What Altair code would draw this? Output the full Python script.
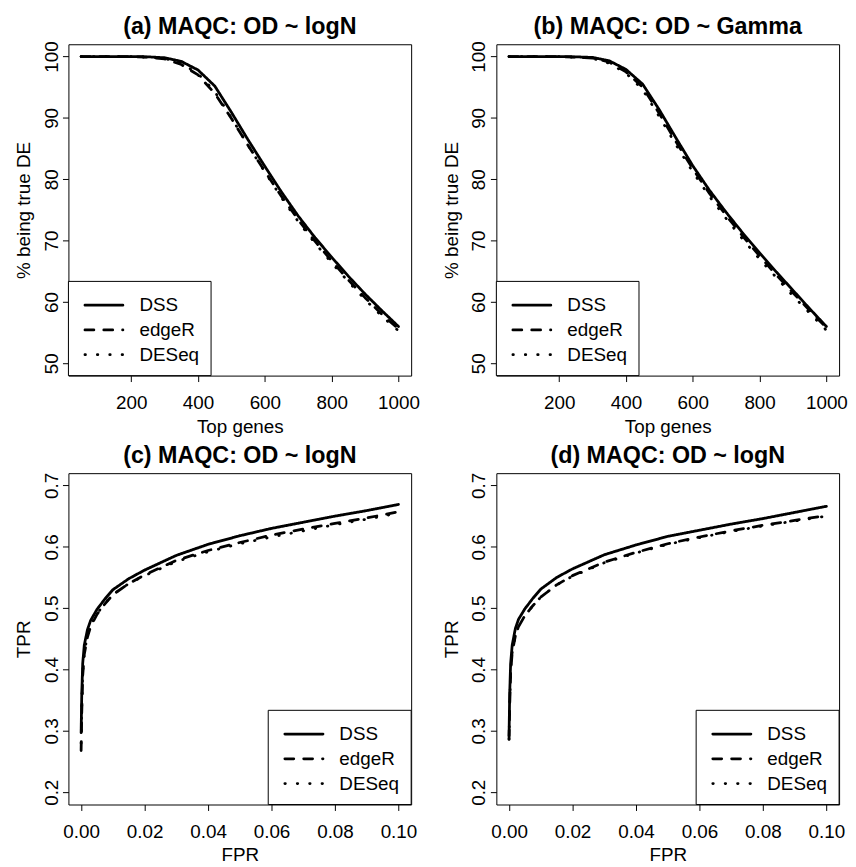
import altair as alt
import pandas as pd

methods = ["DSS", "edgeR", "DESeq"]

# Panels (a), (b): % being true DE vs top genes
top_genes = [50, 100, 150, 200, 250, 300, 350, 400, 450, 500, 550, 600, 650, 700, 750, 800, 850, 900, 950, 1000]
a_dss   = [100, 100, 100, 100, 99.95, 99.8, 99.2, 97.8, 95.2, 90.9, 86.4, 82.1, 77.9, 74.0, 70.5, 67.3, 64.2, 61.3, 58.6, 56.0]
a_edger = [100, 100, 100, 99.98, 99.9, 99.6, 98.7, 97.0, 94.0, 89.9, 85.5, 81.3, 77.2, 73.4, 69.9, 66.7, 63.6, 60.7, 58.0, 55.6]
a_deseq = [100, 100, 100, 99.98, 99.9, 99.7, 98.9, 97.2, 94.3, 90.0, 85.5, 81.2, 77.0, 73.1, 69.6, 66.4, 63.3, 60.4, 57.7, 55.3]
b_dss   = [100, 100, 100, 100, 99.95, 99.85, 99.3, 97.9, 95.5, 91.3, 86.7, 82.2, 78.2, 74.6, 71.2, 68.0, 64.9, 61.9, 58.9, 56.0]
b_edger = [100, 100, 100, 99.98, 99.9, 99.75, 99.1, 97.5, 95.0, 90.7, 86.1, 81.7, 77.7, 74.1, 70.7, 67.5, 64.4, 61.5, 58.6, 55.8]
b_deseq = [100, 100, 100, 99.97, 99.9, 99.7, 98.9, 97.3, 94.6, 90.2, 85.6, 81.2, 77.2, 73.6, 70.2, 67.0, 64.0, 61.0, 58.2, 55.4]

# Panels (c), (d): ROC (TPR vs FPR)
fpr = [0, 0.0002, 0.0005, 0.001, 0.002, 0.003, 0.005, 0.0075, 0.01, 0.015, 0.02, 0.03, 0.04, 0.05, 0.06, 0.07, 0.08, 0.09, 0.1]
c_dss   = [0.297, 0.36, 0.41, 0.44, 0.465, 0.48, 0.498, 0.515, 0.530, 0.548, 0.562, 0.586, 0.604, 0.618, 0.630, 0.640, 0.650, 0.659, 0.669]
c_edger = [0.268, 0.33, 0.39, 0.425, 0.453, 0.470, 0.490, 0.507, 0.522, 0.540, 0.554, 0.578, 0.594, 0.607, 0.619, 0.629, 0.638, 0.647, 0.657]
c_deseq = [0.280, 0.34, 0.395, 0.428, 0.455, 0.472, 0.491, 0.508, 0.522, 0.540, 0.553, 0.576, 0.592, 0.605, 0.616, 0.626, 0.636, 0.645, 0.655]
d_dss   = [0.292, 0.36, 0.41, 0.44, 0.467, 0.482, 0.499, 0.516, 0.531, 0.550, 0.564, 0.587, 0.603, 0.617, 0.627, 0.637, 0.646, 0.656, 0.666]
d_edger = [0.287, 0.34, 0.395, 0.428, 0.455, 0.470, 0.488, 0.504, 0.518, 0.538, 0.553, 0.575, 0.591, 0.605, 0.616, 0.626, 0.635, 0.643, 0.651]
d_deseq = [0.286, 0.34, 0.395, 0.428, 0.455, 0.470, 0.488, 0.504, 0.518, 0.538, 0.552, 0.574, 0.590, 0.604, 0.615, 0.625, 0.634, 0.642, 0.650]

titles = ["(a) MAQC: OD ~ logN", "(b) MAQC: OD ~ Gamma", "(c) MAQC: OD ~ logN", "(d) MAQC: OD ~ logN"]
top_ticks = [200, 400, 600, 800, 1000]
pct_ticks = [50, 60, 70, 80, 90, 100]
fpr_ticks = [0.0, 0.02, 0.04, 0.06, 0.08, 0.10]
tpr_ticks = [0.2, 0.3, 0.4, 0.5, 0.6, 0.7]

FONT = "Liberation Sans"
W, H = 346, 334.5
LW = 2.8
dashes = [[1, 0], [9, 10], [0.5, 12]]


def long_df(xs, series):
    rows = []
    for m, ys in zip(methods, series):
        for i, (xv, yv) in enumerate(zip(xs, ys)):
            rows.append({"x": xv, "y": yv, "method": m, "i": i})
    return pd.DataFrame(rows)


def legend_layers(side):
    if side == "left":
        bx0, bx1, sx0, sx1, tx = 0, 144, 16.7, 55, 71.7
    else:
        bx0, bx1, sx0, sx1, tx = 201.7, W, 218.5, 257, 273.5
    by0 = 239.4
    rows = [263.4, 288.4, 313.4]
    box = alt.Chart(pd.DataFrame({"k": [0]})).mark_rect(
        fill="white", stroke="black", strokeWidth=1
    ).encode(x=alt.value(bx0), x2=alt.value(bx1), y=alt.value(by0), y2=alt.value(H))
    layers = [box]
    for m, ry, d in zip(methods, rows, dashes):
        df = pd.DataFrame({"method": [m]})
        layers.append(
            alt.Chart(df).mark_rule(color="black", strokeWidth=LW, strokeDash=d, strokeCap="round").encode(
                x=alt.value(sx0), x2=alt.value(sx1), y=alt.value(ry)
            )
        )
        layers.append(
            alt.Chart(df).mark_text(align="left", baseline="middle", font=FONT, fontSize=19, color="black").encode(
                x=alt.value(tx), y=alt.value(ry), text="method:N"
            )
        )
    return layers


def panel(title, xs, series, xdom, ydom, xticks, yticks, xfmt, yfmt, xtitle, ytitle, side):
    df = long_df(xs, series)
    lines = alt.Chart(df).mark_line(
        color="black", strokeWidth=LW, strokeCap="round", strokeJoin="round"
    ).encode(
        x=alt.X(
            "x:Q",
            scale=alt.Scale(domain=xdom, nice=False, zero=False),
            axis=alt.Axis(
                values=xticks, format=xfmt, title=xtitle,
                titleY=57, titleBaseline="alphabetic",
                labelPadding=12, labelBaseline="top",
            ),
        ),
        y=alt.Y(
            "y:Q",
            scale=alt.Scale(domain=ydom, nice=False, zero=False),
            axis=alt.Axis(
                values=yticks, format=yfmt, title=ytitle,
                labelAngle=270, labelAlign="center", labelBaseline="bottom", labelPadding=1.5,
                titleAngle=270, titleX=-39, titleY=H / 2, titleBaseline="alphabetic", titleAlign="center",
            ),
        ),
        strokeDash=alt.StrokeDash("method:N", scale=alt.Scale(domain=methods, range=dashes), legend=None),
        order=alt.Order("i:Q"),
    )
    head = alt.Chart(pd.DataFrame({"t": [title]})).mark_text(
        font=FONT, fontSize=23.5, fontWeight="bold", color="black", align="center", baseline="alphabetic"
    ).encode(x=alt.value(W / 2), y=alt.value(-10.5), text="t:N")
    return alt.layer(lines, *legend_layers(side), head).properties(width=W, height=H)


pa = panel(titles[0], top_genes, [a_dss, a_edger, a_deseq], [12, 1038], [48, 102],
           top_ticks, pct_ticks, "d", "d", "Top genes", "% being true DE", "left")
pb = panel(titles[1], top_genes, [b_dss, b_edger, b_deseq], [12, 1038], [48, 102],
           top_ticks, pct_ticks, "d", "d", "Top genes", "% being true DE", "left")
pc = panel(titles[2], fpr, [c_dss, c_edger, c_deseq], [-0.004, 0.104], [0.18, 0.72],
           fpr_ticks, tpr_ticks, ".2f", ".1f", "FPR", "TPR", "right")
pd_ = panel(titles[3], fpr, [d_dss, d_edger, d_deseq], [-0.004, 0.104], [0.18, 0.72],
            fpr_ticks, tpr_ticks, ".2f", ".1f", "FPR", "TPR", "right")

chart = alt.concat(
    pa, pb, pc, pd_, columns=2, spacing={"row": 98, "column": 86}, bounds="flush"
).properties(
    padding={"left": 6, "top": 2.5, "right": 0, "bottom": 0}
).configure_view(
    stroke="black", strokeWidth=1
).configure_axis(
    domain=False, grid=False, tickColor="black", tickSize=6, tickWidth=1,
    labelFont=FONT, labelFontSize=19, labelColor="black", labelFlush=False, labelOverlap=False,
    titleFont=FONT, titleFontSize=19, titleFontWeight="normal", titleColor="black",
)

chart.save("out.html", embed_options={"renderer": "svg", "actions": False})
